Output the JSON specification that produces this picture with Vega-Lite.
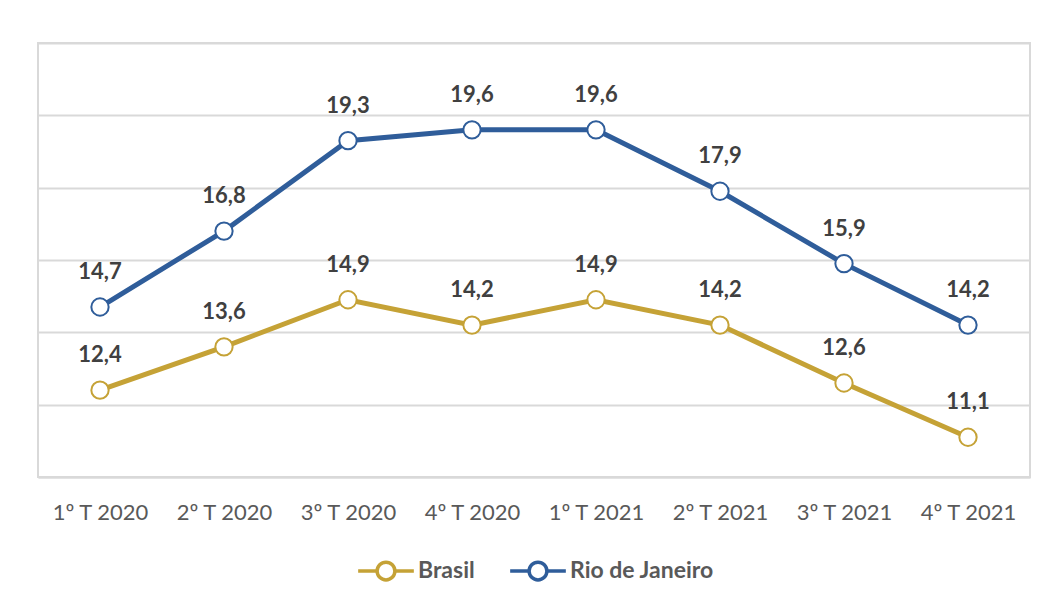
{
  "$schema": "https://vega.github.io/schema/vega-lite/v6.json",
  "width": 992,
  "height": 434,
  "padding": {"left": 38, "top": 43, "right": 17, "bottom": 10},
  "background": "white",
  "config": {
    "locale": {"number": {"decimal": ",", "thousands": ".", "grouping": [3], "currency": ["R$", ""]}},
    "view": {"stroke": "#D9D9D9", "strokeWidth": 2},
    "font": "Lato"
  },
  "data": {
    "values": [
      {"trimestre": "1º T 2020", "serie": "Brasil", "valor": 12.4},
      {"trimestre": "2º T 2020", "serie": "Brasil", "valor": 13.6},
      {"trimestre": "3º T 2020", "serie": "Brasil", "valor": 14.9},
      {"trimestre": "4º T 2020", "serie": "Brasil", "valor": 14.2},
      {"trimestre": "1º T 2021", "serie": "Brasil", "valor": 14.9},
      {"trimestre": "2º T 2021", "serie": "Brasil", "valor": 14.2},
      {"trimestre": "3º T 2021", "serie": "Brasil", "valor": 12.6},
      {"trimestre": "4º T 2021", "serie": "Brasil", "valor": 11.1},
      {"trimestre": "1º T 2020", "serie": "Rio de Janeiro", "valor": 14.7},
      {"trimestre": "2º T 2020", "serie": "Rio de Janeiro", "valor": 16.8},
      {"trimestre": "3º T 2020", "serie": "Rio de Janeiro", "valor": 19.3},
      {"trimestre": "4º T 2020", "serie": "Rio de Janeiro", "valor": 19.6},
      {"trimestre": "1º T 2021", "serie": "Rio de Janeiro", "valor": 19.6},
      {"trimestre": "2º T 2021", "serie": "Rio de Janeiro", "valor": 17.9},
      {"trimestre": "3º T 2021", "serie": "Rio de Janeiro", "valor": 15.9},
      {"trimestre": "4º T 2021", "serie": "Rio de Janeiro", "valor": 14.2}
    ]
  },
  "encoding": {
    "x": {
      "field": "trimestre",
      "type": "ordinal",
      "sort": null,
      "scale": {"type": "point", "padding": 0.5},
      "axis": {
        "title": null,
        "labelAngle": 0,
        "labelFontSize": 22,
        "labelColor": "#595959",
        "labelPadding": 25,
        "ticks": false,
        "domainColor": "#D9D9D9",
        "domainWidth": 2,
        "grid": false
      }
    },
    "y": {
      "field": "valor",
      "type": "quantitative",
      "scale": {"domain": [10, 22], "nice": false, "zero": false},
      "axis": {
        "title": null,
        "labels": false,
        "ticks": false,
        "domain": false,
        "values": [10, 12, 14, 16, 18, 20, 22],
        "gridColor": "#D9D9D9",
        "gridWidth": 2
      }
    }
  },
  "layer": [
    {
      "mark": {"type": "line", "strokeWidth": 5},
      "encoding": {
        "color": {
          "field": "serie",
          "type": "nominal",
          "scale": {"domain": ["Brasil", "Rio de Janeiro"], "range": ["#C5A236", "#2F5D9A"]},
          "legend": {
            "title": null,
            "orient": "none",
            "legendX": 318,
            "legendY": 498,
            "direction": "horizontal",
            "symbolType": "M-1,0L-0.32,0M1,0L0.32,0M0.32,0A0.32,0.32,0,1,1,-0.32,0A0.32,0.32,0,1,1,0.32,0",
            "symbolSize": 3100,
            "symbolStrokeWidth": 3.5,
            "symbolFillColor": "white",
            "labelFontSize": 23,
            "labelFontWeight": "bold",
            "labelColor": "#595959",
            "labelOffset": 2,
            "columnPadding": 28,
            "encode": {"symbols": {"update": {"fill": {"value": "white"}}}}
          }
        }
      }
    },
    {
      "mark": {"type": "point", "filled": true, "fill": "white", "size": 300, "strokeWidth": 2, "opacity": 1},
      "encoding": {
        "stroke": {"field": "serie", "type": "nominal", "scale": {"domain": ["Brasil", "Rio de Janeiro"], "range": ["#C5A236", "#2F5D9A"]}, "legend": null}
      }
    },
    {
      "mark": {"type": "text", "dy": -35, "fontSize": 22, "fontWeight": "bold", "color": "#404040"},
      "encoding": {
        "text": {"field": "valor", "type": "quantitative", "format": ".1f"}
      }
    }
  ]
}
